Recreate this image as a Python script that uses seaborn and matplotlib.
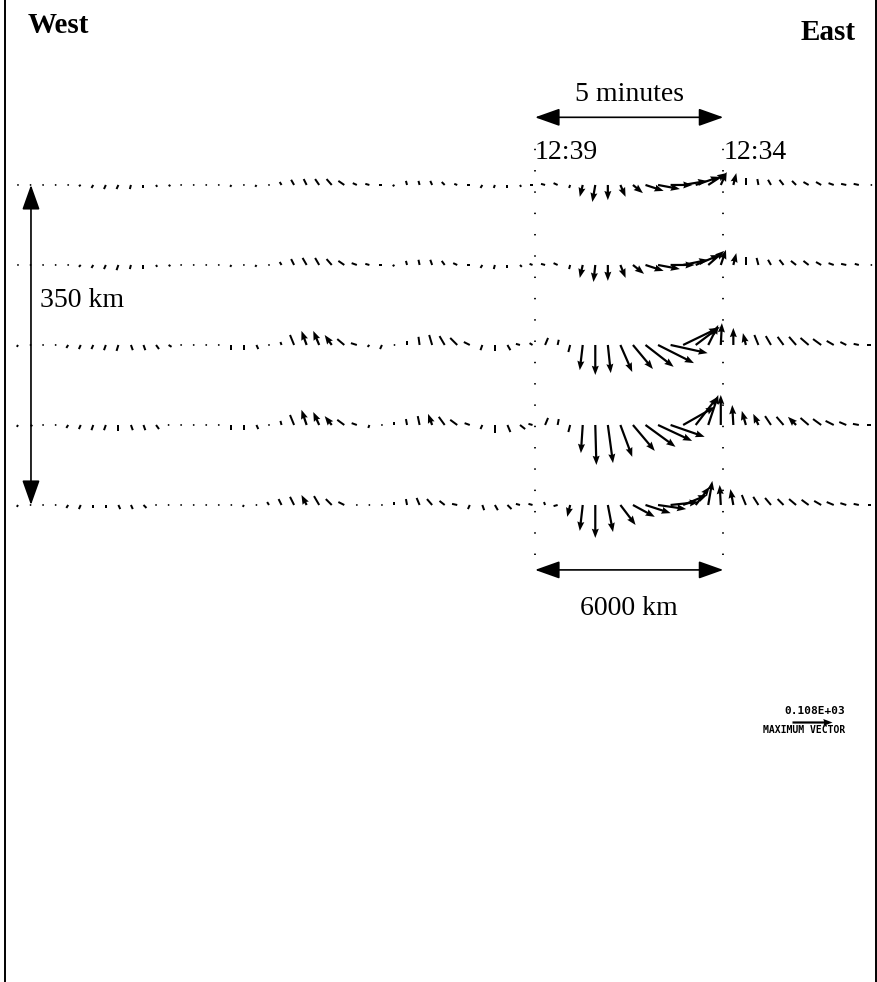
import numpy as np
import matplotlib
matplotlib.use('Agg')
import matplotlib.pyplot as plt
import seaborn as sns

sns.set_theme(style='white')
plt.rcParams['font.family'] = ['Liberation Serif', 'DejaVu Serif']
plt.rcParams['text.color'] = 'black'

# ---- data: wind vectors (m/s), 5 latitude rows, 69 points along track ----
row_km = [350, 262.5, 175, 87.5, 0]      # north -> south, 350 km apart in total
step_km = 400                            # along-track sampling
n_points = 69
time_marks_km = [16480, 22480]           # 12:39 and 12:34 crossings
time_labels = ['12:39', '12:34']
max_vector = 108

row1_u = [3, 3, 3, 3, -5, -5, -5, -5, -5, -3,
          0, 3, 5, 3, 3, 0, 3, -3, 3, -3,
          3, -5, -8, -8, -11, -14, -16, -11, -11, -8,
          -5, -3, -3, -5, -8, -8, -8, -5, -3, 0,
          3, -8, -11, -11, -3, -8, -8, 0, 14, 27,
          49, 59, 59, 65, 65, 49, 16, 8, 0, -3,
          -8, -11, -11, -14, -14, -14, -14, -14, -5]
row1_v = [0, 0, 3, 0, 0, -3, -8, -11, -11, -11,
          -8, -5, -3, -3, 0, -5, 0, -5, 0, -5,
          3, 8, 14, 16, 16, 16, 11, 5, 3, 0,
          -3, 11, 11, 11, 8, 3, 0, -8, -8, -8,
          -5, 0, 3, 5, -8, -32, -46, -41, -32, -22,
          -16, -11, 0, 11, 22, 32, 35, 32, 19, 16,
          14, 14, 11, 8, 8, 5, 3, 3, 0]

row2_u = [3, 3, 3, 3, -5, -5, -5, -5, -5, -3,
          0, 3, 5, 3, 3, 0, 3, -3, 0, -3,
          3, -5, -8, -11, -11, -14, -16, -14, -11, -8,
          -5, -3, -3, -5, -8, -11, -8, -5, -3, 0,
          5, -8, -11, -11, -3, -8, -5, 0, 14, 30,
          49, 59, 65, 68, 65, 43, 14, 8, 0, -5,
          -8, -11, -14, -14, -14, -14, -14, -11, -5]
row2_v = [0, 0, 3, 0, 0, -5, -8, -11, -14, -11,
          -11, -5, -3, -3, 0, -5, 0, -5, -3, -5,
          3, 8, 16, 19, 19, 16, 11, 5, 3, 0,
          -3, 11, 14, 14, 11, 5, 0, -8, -11, -8,
          -5, 3, 3, 5, -11, -35, -46, -43, -35, -24,
          -16, -11, 0, 14, 27, 38, 41, 32, 22, 19,
          14, 14, 11, 11, 8, 5, 3, 3, 0]

row3_u = [-3, 3, 3, 3, -5, -5, -5, -5, -5, 5,
          5, 8, 8, 3, 3, 3, 0, 0, 0, 5,
          3, -3, -11, -14, -16, -19, -19, -16, -5, -5,
          3, 0, -3, -8, -14, -19, -16, -5, 0, 8,
          -11, -8, 8, 3, -5, -8, 0, 8, 32, 54,
          76, 97, 100, 95, 65, 27, 3, 0, -8, -11,
          -14, -16, -19, -22, -22, -19, -16, -14, -11]
row3_v = [-5, 0, 0, 0, -8, -11, -11, -14, -16, -14,
          -14, -11, -5, 0, 0, 0, -5, -14, -14, -11,
          0, 8, 27, 38, 38, 27, 16, 5, -5, -11,
          0, 11, 22, 27, 24, 19, 8, -14, -16, -14,
          3, 5, 19, 14, -19, -68, -81, -76, -73, -65,
          -59, -49, -22, 46, 49, 54, 59, 46, 32, 27,
          24, 22, 22, 19, 16, 11, 8, 3, 0]

row4_u = [-3, 5, 3, 3, -5, -5, -5, -5, 0, 5,
          5, 8, 3, 3, 3, 3, 0, 0, 0, 5,
          3, -3, -11, -14, -16, -19, -19, -14, -3, 3,
          0, -3, -5, -11, -16, -19, -14, -5, 0, 8,
          14, -11, 8, 3, -5, -5, 3, 14, 32, 59,
          81, 92, 92, 86, 59, 27, 0, -3, -11, -14,
          -16, -19, -22, -22, -22, -22, -19, -16, -11]
row4_v = [-5, -3, 0, 0, -8, -11, -14, -14, -16, -14,
          -14, -11, -3, 0, 0, 0, -5, -14, -14, -11,
          0, 11, 27, 41, 35, 24, 14, 5, -8, 0,
          8, 16, 24, 30, 22, 14, 5, -11, -22, -19,
          -11, 3, 19, 16, -19, -76, -108, -103, -86, -70,
          -59, -43, -32, 49, 76, 81, 81, 54, 38, 30,
          24, 22, 22, 19, 16, 11, 8, 3, 0]

row5_u = [-3, 3, 3, -5, -5, -5, 0, 0, 5, 5,
          8, 3, 3, 3, 3, 3, 3, 0, -3, 3,
          -5, -8, -11, -14, -14, -16, -16, 3, 3, 3,
          0, -3, -8, -14, -14, -14, -5, 5, 8, 11,
          -11, -11, -3, -11, -8, -8, 0, 14, 41, 59,
          68, 76, 76, 65, 38, 11, -3, -8, -11, -14,
          -16, -16, -19, -19, -19, -19, -16, -14, -8]
row5_v = [-5, 0, 0, 0, -8, -11, -8, -8, -11, -11,
          -8, 0, 0, 0, 0, 0, 0, -5, -5, 0,
          8, 16, 22, 27, 24, 16, 8, 0, 0, 0,
          8, 16, 19, 16, 11, 3, -11, -14, -14, -11,
          3, 3, 8, -3, -32, -70, -89, -73, -54, -32,
          -22, -11, 8, 27, 49, 65, 54, 43, 27, 22,
          19, 16, 16, 14, 11, 8, 5, 3, 0]

rows_u = [row1_u, row2_u, row3_u, row4_u, row5_u]
rows_v = [row1_v, row2_v, row3_v, row4_v, row5_v]

along_km = np.arange(n_points) * step_km
X = np.concatenate([along_km for _ in row_km])
Y = np.concatenate([np.full(n_points, r) for r in row_km])
U = np.concatenate(rows_u).astype(float)
V = np.concatenate(rows_v).astype(float)
speed = np.hypot(U, V)
big = speed >= 30

# ---- figure ----
fig = plt.figure(figsize=(8.78, 9.82), dpi=100)
ax = fig.add_axes([5 / 878, 0, 871 / 878, 1])
ax.set_xlim(-414, 27347)
ax.set_ylim(-521.7, 552.3)
ax.set_xticks([])
ax.set_yticks([])
for side in ['top', 'bottom']:
    ax.spines[side].set_visible(False)
for side in ['left', 'right']:
    ax.spines[side].set_color('black')
    ax.spines[side].set_linewidth(1.4)

qkw = dict(pivot='tail', angles='uv', scale_units='inches', scale=270,
           units='dots', color='black', zorder=3)
# weak winds: plain strokes, strong winds: arrows
ax.quiver(X[~big], Y[~big], U[~big], V[~big], width=2.0, headwidth=1,
          headlength=0, headaxislength=0, **qkw)
Q = ax.quiver(X[big], Y[big], U[big], V[big], width=2.2, headwidth=3.2,
              headlength=4.2, headaxislength=3.8, **qkw)

# dotted time markers
for xm, lab in zip(time_marks_km, time_labels):
    ax.plot([xm, xm], [-55, 394], color='black', lw=1.3,
            ls=(0, (0.8, 11)), zorder=2)
    ax.text(xm, 385, lab, ha='left', va='center', fontsize=20)

arrow_kw = dict(arrowstyle='<|-|>,head_length=0.9,head_width=0.32',
                color='black', lw=1.2, mutation_scale=17,
                shrinkA=0, shrinkB=0)
# 5 minutes
ax.annotate('', xy=(time_marks_km[0], 424), xytext=(time_marks_km[1], 424),
            arrowprops=arrow_kw)
ax.text(np.mean(time_marks_km), 449, '5 minutes', ha='center', va='center',
        fontsize=20)
# 6000 km
ax.annotate('', xy=(time_marks_km[0], -71), xytext=(time_marks_km[1], -71),
            arrowprops=arrow_kw)
ax.text(np.mean(time_marks_km), -113, '6000 km', ha='center', va='center',
        fontsize=20)
# 350 km
ax.annotate('', xy=(414, row_km[-1]), xytext=(414, row_km[0]),
            arrowprops=arrow_kw)
ax.text(701, 224, '350 km', ha='left', va='center', fontsize=20)

fig.text(28 / 878, 1 - 33 / 982, 'West', ha='left', va='baseline',
         fontsize=21, fontweight='bold')
fig.text(856 / 878, 1 - 40 / 982, 'East', ha='right', va='baseline',
         fontsize=21, fontweight='bold')

# maximum vector key
ax.quiverkey(Q, 812 / 878, 1 - 722 / 982, max_vector, '', coordinates='figure',
             labelpos='N')
fig.text(815 / 878, 1 - 711 / 982, '0.%dE+03' % max_vector, ha='center',
         va='center', fontsize=8, fontweight='bold', family='DejaVu Sans Mono')
fig.text(804 / 878, 1 - 730 / 982, 'MAXIMUM VECTOR', ha='center', va='center',
         fontsize=7, fontweight='bold', family='DejaVu Sans Mono')

fig.savefig('out.png', dpi=100, facecolor='white')
